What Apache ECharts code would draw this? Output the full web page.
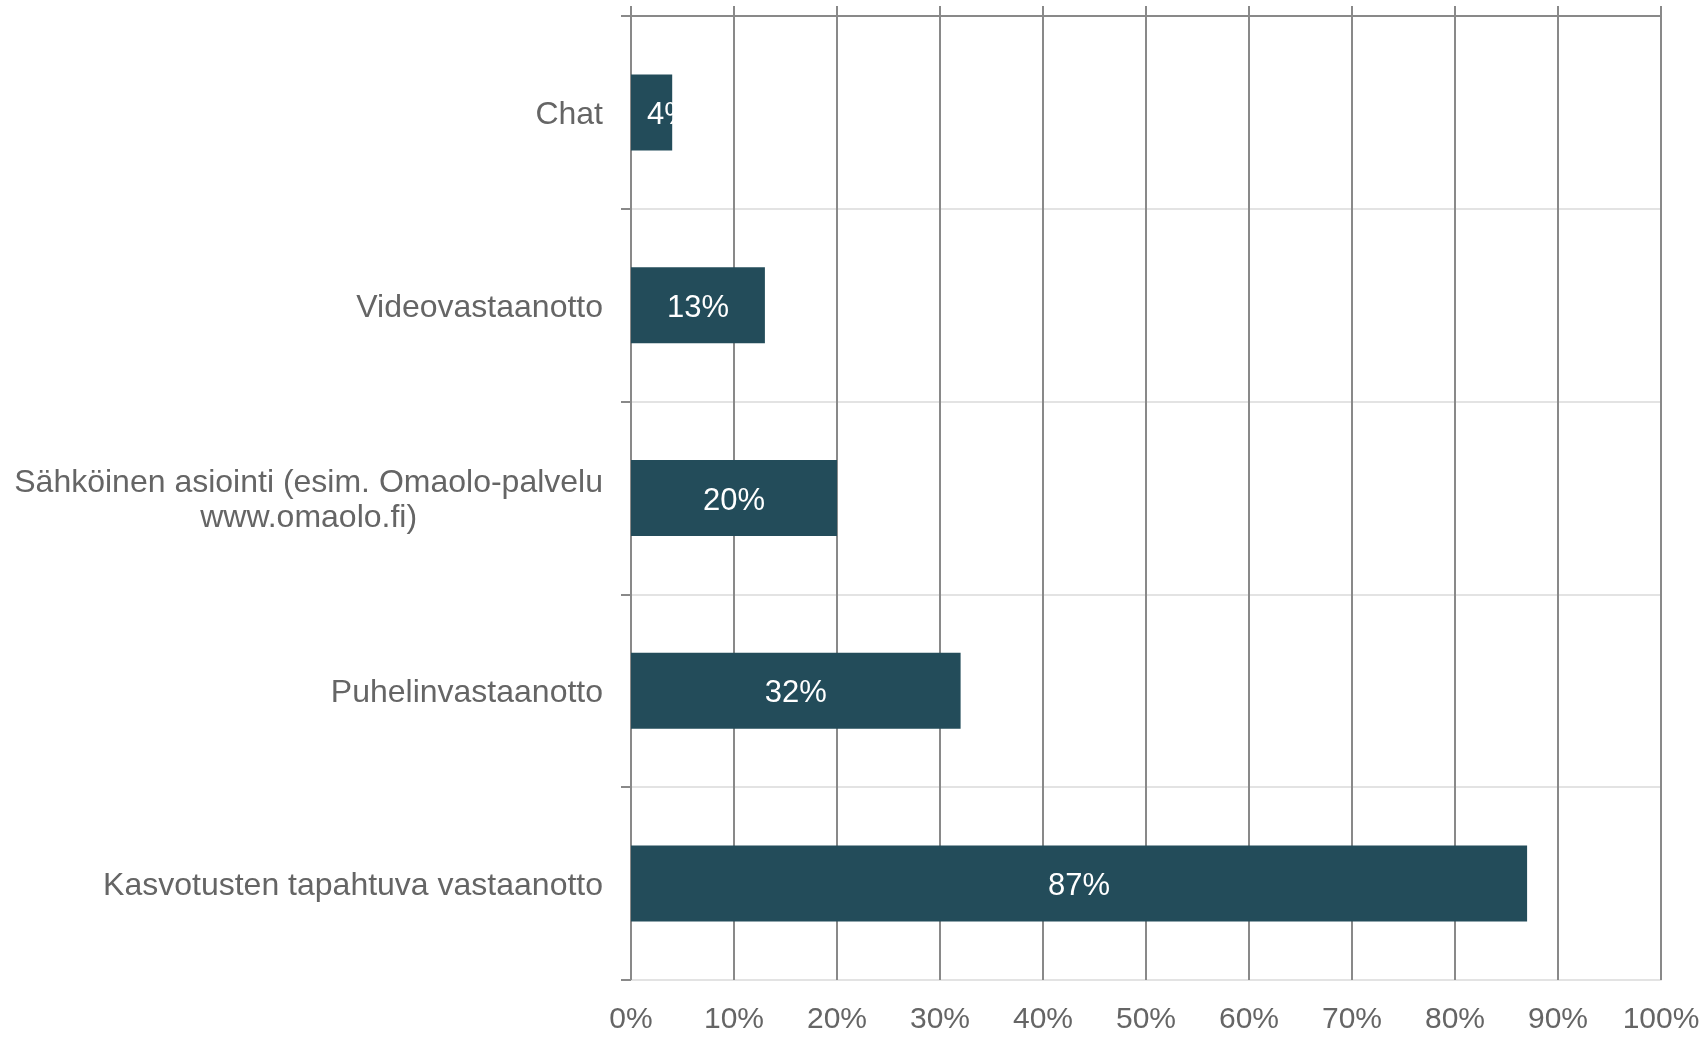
<!DOCTYPE html>
<html>
<head>
<meta charset="utf-8">
<script src="https://cdn.jsdelivr.net/npm/echarts@6/dist/echarts.min.js"></script>
<style>
html,body{margin:0;padding:0;background:#fff;}
#chart{width:1708px;height:1037px;}
</style>
</head>
<body>
<div id="chart"></div>
<script>
const categories = [
  'Chat',
  'Videovastaanotto',
  'Sähköinen asiointi (esim. Omaolo-palvelu\nwww.omaolo.fi)',
  'Puhelinvastaanotto',
  'Kasvotusten tapahtuva vastaanotto'
];
const values = [4, 13, 20, 32, 87];
const axisMin = 0;
const axisMax = 100;
const axisStep = 10;

const FONT = '"Liberation Sans", Arial, sans-serif';
const TEXT = '#656565';
const DARK = '#898989';
const LIGHT = '#e3e3e3';
const BAR = '#234c5a';

const seriesData = values.map(function (v) {
  const item = { value: v };
  if (v < 8) {
    item.label = { position: 'insideLeft', distance: 16 };
  }
  return item;
});

const chart = echarts.init(document.getElementById('chart'), null, { renderer: 'canvas' });
chart.setOption({
  animation: false,
  backgroundColor: '#fff',
  grid: { left: 631, right: 47, top: 16, bottom: 57 },
  xAxis: [
    {
      type: 'value', position: 'bottom', min: axisMin, max: axisMax, interval: axisStep,
      axisLine: { show: true, lineStyle: { color: LIGHT, width: 2 } },
      axisTick: { show: false },
      splitLine: { show: false },
      axisLabel: {
        formatter: '{value}%', color: TEXT, fontFamily: FONT, fontSize: 30, margin: 25
      }
    },
    {
      type: 'value', position: 'top', min: axisMin, max: axisMax, interval: axisStep,
      z: 5,
      axisLine: { show: true, lineStyle: { color: DARK, width: 2 } },
      axisTick: { show: true, inside: false, length: 10, lineStyle: { color: DARK, width: 2 } },
      splitLine: { show: true, lineStyle: { color: DARK, width: 2 } },
      axisLabel: { show: false }
    }
  ],
  yAxis: {
    type: 'category', inverse: true, data: categories,
    boundaryGap: true,
    axisLine: { show: true, lineStyle: { color: DARK, width: 2 } },
    axisTick: { show: true, length: 10, lineStyle: { color: DARK, width: 2 } },
    splitLine: { show: true, lineStyle: { color: LIGHT, width: 2 } },
    axisLabel: {
      color: TEXT, fontFamily: FONT, fontSize: 32, margin: 28, lineHeight: 35,
      padding: [5, 0, 0, 0],
      formatter: function (val) {
        return val.split('\n').map(function (l) { return '{c|' + l + '}'; }).join('\n');
      },
      rich: { c: { align: 'center', color: TEXT, fontFamily: FONT, fontSize: 32, lineHeight: 35 } }
    }
  },
  series: [{
    type: 'bar',
    xAxisIndex: 0,
    data: seriesData,
    barWidth: 76,
    z: 10,
    itemStyle: { color: BAR },
    label: {
      show: true, position: 'inside', formatter: '{c}%', offset: [0, 3],
      color: '#fff', fontFamily: FONT, fontSize: 31
    }
  }]
});
</script>
</body>
</html>
